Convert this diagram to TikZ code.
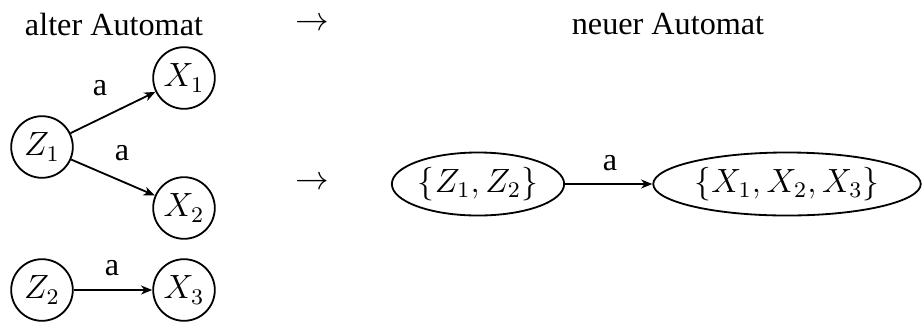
\documentclass[tikz,border=0pt]{standalone}
\usepackage{fontspec}
\setmainfont{Liberation Serif}
\usetikzlibrary{arrows.meta,shapes.geometric}
\begin{document}
\begin{tikzpicture}[x=0.357pt,y=-0.357pt,font=\fontsize{11.5}{14}\selectfont,
  st/.style={draw,circle,line width=0.65pt,minimum size=22pt,inner sep=0pt},
  est/.style={draw,ellipse,line width=0.65pt,minimum width=61.5pt,minimum height=22.5pt,inner sep=0pt},
  tr/.style={line width=0.65pt,-{Stealth[length=4pt,width=3.2pt,inset=1.2pt]}},
  lbl/.style={inner sep=0pt}]
\useasboundingbox (0,0) rectangle (924,323);
\node[lbl] (t1) at (114,24) {alter Automat};
\node[lbl] (ar1) at (312,24) {$\rightarrow$};
\node[lbl] (t2) at (668,24) {neuer Automat};
\node[lbl] (ar2) at (312,183) {$\rightarrow$};
\node[st] (z1) at (42,147) {$Z_1$};
\node[st] (x1) at (184,78) {$X_1$};
\node[st] (x2) at (184,208) {$X_2$};
\node[st] (z2) at (42,290) {$Z_2$};
\node[st] (x3) at (184,290) {$X_3$};
\draw[tr] (z1) -- (x1);
\draw[tr] (z1) -- (x2);
\draw[tr] (z2) -- (x3);
\node[lbl] (a1) at (100,88) {a};
\node[lbl] (a2) at (122,153) {a};
\node[lbl] (a3) at (112,268) {a};
\node[est] (e1) at (478,184) {$\{Z_1,Z_2\}$};
\node[est,minimum width=95.5pt] (e2) at (787,184) {$\{X_1,X_2,X_3\}$};
\draw[tr] (e1) -- (e2);
\node[lbl] (a4) at (610,163) {a};
\end{tikzpicture}
\end{document}
